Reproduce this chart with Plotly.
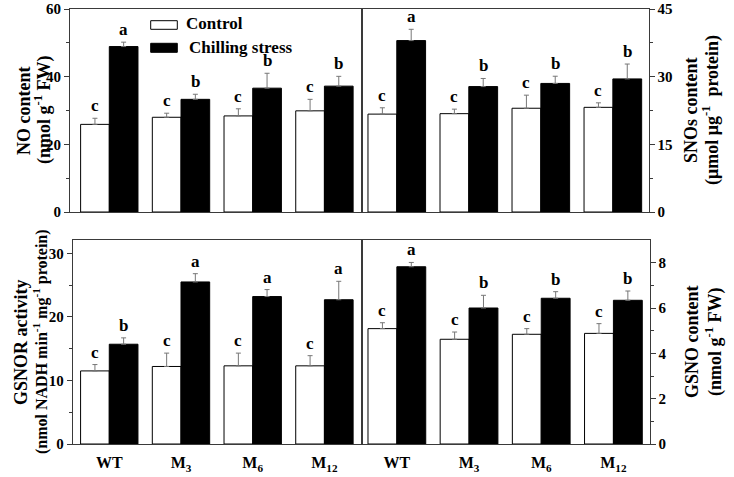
import plotly.graph_objects as go

W, H = 734, 477
FONT = "Liberation Serif"

groups = ["WT", "M<sub>3</sub>", "M<sub>6</sub>", "M<sub>12</sub>"]
xi = [0, 1, 2, 3]

# NO content (nmol g-1 FW)
no_ctrl = [25.9, 28.0, 28.4, 29.9]
no_ctrl_err = [1.8, 1.2, 2.1, 3.4]
no_chill = [48.9, 33.3, 36.6, 37.2]
no_chill_err = [1.3, 1.5, 4.4, 2.9]
no_ctrl_let = ["c", "c", "c", "c"]
no_chill_let = ["a", "b", "b", "b"]

# SNOs content
sno_ctrl = [21.7, 21.8, 23.0, 23.2]
sno_ctrl_err = [1.4, 1.0, 2.9, 1.0]
sno_chill = [38.0, 27.8, 28.5, 29.5]
sno_chill_err = [2.5, 1.8, 1.6, 3.3]
sno_ctrl_let = ["c", "c", "c", "c"]
sno_chill_let = ["a", "b", "b", "b"]

# GSNOR activity
gsnor_ctrl = [11.5, 12.2, 12.3, 12.3]
gsnor_ctrl_err = [1.0, 2.1, 2.0, 1.6]
gsnor_chill = [15.7, 25.5, 23.2, 22.7]
gsnor_chill_err = [1.0, 1.3, 1.1, 2.9]
gsnor_ctrl_let = ["c", "c", "c", "c"]
gsnor_chill_let = ["b", "a", "a", "a"]

# GSNO content
gsno_ctrl = [5.09, 4.62, 4.84, 4.88]
gsno_ctrl_err = [0.26, 0.32, 0.25, 0.43]
gsno_chill = [7.82, 6.00, 6.43, 6.34]
gsno_chill_err = [0.19, 0.56, 0.29, 0.41]
gsno_ctrl_let = ["c", "c", "c", "c"]
gsno_chill_let = ["a", "b", "b", "b"]

panels = [
    ("x", "y", no_ctrl, no_ctrl_err, no_chill, no_chill_err, no_ctrl_let, no_chill_let),
    ("x2", "y2", sno_ctrl, sno_ctrl_err, sno_chill, sno_chill_err, sno_ctrl_let, sno_chill_let),
    ("x3", "y3", gsnor_ctrl, gsnor_ctrl_err, gsnor_chill, gsnor_chill_err, gsnor_ctrl_let, gsnor_chill_let),
    ("x4", "y4", gsno_ctrl, gsno_ctrl_err, gsno_chill, gsno_chill_err, gsno_ctrl_let, gsno_chill_let),
]

fig = go.Figure()
annotations = []
LINE = "#3a3a3a"
ERR = "#777777"

def px(x):
    return x / W

def py(y):
    return 1 - y / H

for xa, ya, c, ce, s, se, cl, sl in panels:
    for vals, errs, fill, off, name, lets in [
        (c, ce, "white", -0.2, "Control", cl),
        (s, se, "black", 0.2, "Chilling stress", sl),
    ]:
        fig.add_trace(go.Bar(
            x=xi, y=vals, name=name, xaxis=xa, yaxis=ya,
            marker=dict(color=fill, line=dict(color="black", width=1)),
            error_y=dict(type="data", symmetric=False, array=errs,
                         arrayminus=[0] * len(errs), color=ERR,
                         thickness=1, width=2.5),
            showlegend=False,
        ))
        for i, (v, e, t) in enumerate(zip(vals, errs, lets)):
            annotations.append(dict(
                x=xi[i] + off, y=v + e, xref=xa, yref=ya, text="<b>%s</b>" % t,
                showarrow=False, yanchor="bottom", yshift=1,
                font=dict(family=FONT, size=17, color="black"),
            ))

tickfont = dict(family=FONT, size=15, color="black", weight="bold")
common_x = dict(showline=True, linecolor=LINE, linewidth=1, mirror=True,
                showgrid=False, zeroline=False, fixedrange=True, automargin=False)
common_y = dict(showline=True, linecolor=LINE, linewidth=1, mirror=True,
                showgrid=False, zeroline=False, ticks="outside", ticklen=5,
                tickcolor=LINE, tickfont=tickfont, fixedrange=True, automargin=False)

top_dom = [py(212), py(9)]
bot_dom = [py(444), py(240)]
xfont = dict(family=FONT, size=16, color="black", weight="bold")

fig.update_layout(
    width=W, height=H,
    margin=dict(l=0, r=0, t=0, b=0, autoexpand=False),
    paper_bgcolor="white", plot_bgcolor="white",
    barmode="group", bargap=0.2, bargroupgap=0,
    showlegend=False,
    xaxis=dict(domain=[px(70), px(362)], range=[-0.548, 3.524], anchor="y",
               showticklabels=False, ticks="", **common_x),
    yaxis=dict(domain=top_dom, range=[0, 60], anchor="x",
               tickvals=[0, 20, 40, 60],
               minor=dict(tickvals=[10, 30, 50], ticklen=3, ticks="outside", tickcolor=LINE),
               **common_y),
    xaxis2=dict(domain=[px(362), px(648.5)], range=[-0.483, 3.495], anchor="y2",
                showticklabels=False, ticks="", **common_x),
    yaxis2=dict(domain=top_dom, range=[0, 45], anchor="x2", side="right",
                tickvals=[0, 15, 30, 45],
                minor=dict(tickvals=[7.5, 22.5, 37.5], ticklen=3, ticks="outside", tickcolor=LINE),
                **common_y),
    xaxis3=dict(domain=[px(72.7), px(362)], range=[-0.51, 3.524], anchor="y3",
                tickvals=xi, ticktext=groups, ticks="outside", ticklen=4,
                tickcolor="rgba(0,0,0,0)", tickfont=xfont, **common_x),
    yaxis3=dict(domain=bot_dom, range=[0, 32.1], anchor="x3",
                tickvals=[0, 10, 20, 30],
                minor=dict(tickvals=[5, 15, 25], ticklen=3, ticks="outside", tickcolor=LINE),
                **common_y),
    xaxis4=dict(domain=[px(362), px(649.5)], range=[-0.483, 3.5], anchor="y4",
                tickvals=xi, ticktext=groups, ticks="outside", ticklen=4,
                tickcolor="rgba(0,0,0,0)", tickfont=xfont, **common_x),
    yaxis4=dict(domain=bot_dom, range=[0, 9], anchor="x4", side="right",
                tickvals=[0, 2, 4, 6, 8],
                minor=dict(tickvals=[1, 3, 5, 7], ticklen=3, ticks="outside", tickcolor=LINE),
                **common_y),
)

# Axis titles (two lines each, rotated)
titles = [
    ("NO content", 24, 110, 18),
    ("(nmol g<sup>-1</sup> FW)", 43, 110, 18),
    ("GSNOR activity", 21, 342, 18),
    ("(nmol NADH min<sup>-1</sup> mg<sup>-1</sup> protein)", 40, 342, 16),
    ("SNOs content", 691, 110, 18),
    ("(μmol μg<sup>-1</sup>  protein)", 711, 110, 18),
    ("GSNO content", 692, 342, 18),
    ("(nmol g<sup>-1</sup> FW)", 714, 342, 18),
]
for t, x, y, s in titles:
    annotations.append(dict(x=px(x), y=py(y), xref="paper", yref="paper",
                            text="<b>%s</b>" % t, textangle=-90, showarrow=False,
                            xanchor="center", yanchor="middle",
                            font=dict(family=FONT, size=s, color="black")))

# Legend
lfont = dict(family=FONT, size=17, color="black")
annotations.append(dict(x=px(184), y=py(24), xref="paper", yref="paper", text="<b>Control</b>",
                        showarrow=False, xanchor="left", yanchor="middle", font=lfont))
annotations.append(dict(x=px(187), y=py(47), xref="paper", yref="paper", text="<b>Chilling stress</b>",
                        showarrow=False, xanchor="left", yanchor="middle", font=lfont))
shapes = [
    dict(type="rect", xref="paper", yref="paper", x0=px(150.7), x1=px(177.3),
         y0=py(29.3), y1=py(20.7), fillcolor="white", line=dict(color="black", width=1)),
    dict(type="rect", xref="paper", yref="paper", x0=px(150.7), x1=px(177.3),
         y0=py(52.3), y1=py(43.3), fillcolor="black", line=dict(color="black", width=1)),
]

fig.update_layout(annotations=annotations, shapes=shapes)
fig.write_html("out.html", config={"displayModeBar": False},
               post_script="document.body.style.margin='0';document.body.style.overflow='hidden';")
